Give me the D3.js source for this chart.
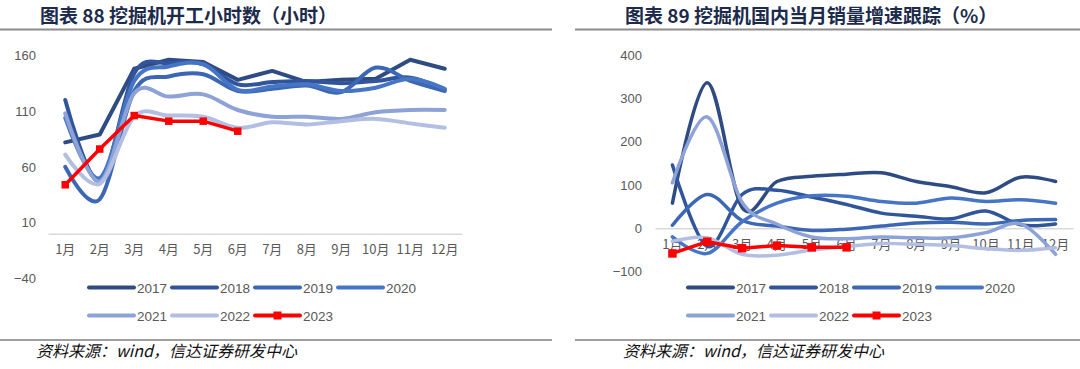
<!DOCTYPE html>
<html>
<head>
<meta charset="utf-8">
<script src="https://cdn.jsdelivr.net/npm/d3@7/dist/d3.min.js"></script>
<style>
  html, body { margin: 0; padding: 0; background: #fff; }
  svg { display: block; }
</style>
</head>
<body>
<svg id="chart" width="1080" height="369"></svg>
<script>
// ---- data ----
const months = ['1月', '2月', '3月', '4月', '5月', '6月', '7月', '8月', '9月', '10月', '11月', '12月'];
const years = ['2017', '2018', '2019', '2020', '2021', '2022', '2023'];

// 挖掘机开工小时数（小时）
const hours2017 = [82, 89, 148, 156, 154, 138, 146, 136, 138, 139, 156, 148];
const hours2018 = [120, 47, 144, 153, 152, 134, 136, 137, 135, 137, 140, 129];
const hours2019 = [60, 31, 128, 141, 143, 128, 130, 133, 127, 149, 137, 128];
const hours2020 = [104, 50, 137, 150, 152, 129, 132, 134, 128, 131, 139, 130];
const hours2021 = [108, 47, 126, 123, 125, 111, 105, 105, 103, 109, 111, 111];
const hours2022 = [71, 45, 105, 106, 105, 95, 100, 98, 101, 103, 99, 95];
const hours2023 = [44, 76, 106, 101, 101, 92];
const hoursTicks = [-40, 10, 60, 110, 160];

// 挖掘机国内当月销量增速（%）
const growth2017 = [58, 336, 48, 108, 120, 125, 128, 108, 96, 82, 118, 108];
const growth2018 = [146, -42, 78, 88, 72, 55, 35, 28, 22, 40, 8, 10];
const growth2019 = [7, 78, 18, 5, -5, -2, 5, 12, 14, 10, 18, 20];
const growth2020 = [-20, -58, 15, 58, 75, 74, 62, 58, 70, 62, 66, 58];
const growth2021 = [105, 257, 60, 10, -20, -24, -20, -22, -22, -10, 10, -60];
const growth2022 = [-30, -22, -60, -62, -50, -42, -35, -37, -40, -47, -51, -45];
const growth2023 = [-58, -31, -46, -40, -44, -44];
const growthTicks = [-100, 0, 100, 200, 300, 400];

const colors = ['#2F4B83', '#30559A', '#3C67B4', '#4775C6', '#8DA2D6', '#B2BEE2', '#FF0000'];

const svg = d3.select('#chart');
svg.append('rect').attr('width', 1080).attr('height', 369).attr('fill', '#fff');

const cjk = '"Noto Sans CJK SC", "Noto Sans", sans-serif';
const num = '"Liberation Sans", Arial, sans-serif';

function fmtTick(d) {
  return d < 0 ? '\u2212' + Math.abs(d) : String(d);
}

function drawPanel(opt) {
  const g = svg.append('g');

  // title + rules
  g.append('text')
    .attr('x', opt.titleX).attr('y', 23)
    .attr('font-family', cjk).attr('font-weight', 'bold')
    .attr('font-size', '19px').attr('fill', '#1C2B4C')
    .text(opt.title);
  g.append('line')
    .attr('x1', opt.ruleX[0]).attr('x2', opt.ruleX[1])
    .attr('y1', 29.5).attr('y2', 29.5)
    .attr('stroke', '#8C8C8C').attr('stroke-width', 2);
  g.append('line')
    .attr('x1', opt.ruleX[0]).attr('x2', opt.ruleX[1])
    .attr('y1', 340).attr('y2', 340)
    .attr('stroke', '#7F7F7F').attr('stroke-width', 1.5);
  g.append('text')
    .attr('x', opt.sourceX).attr('y', 357)
    .attr('font-family', cjk).attr('font-style', 'italic')
    .attr('font-size', '16px').attr('fill', '#111')
    .text('资料来源：wind，信达证券研发中心');

  // scales
  const x = d3.scaleBand().domain(months).range(opt.xRange);
  const cx = m => x(m) + x.bandwidth() / 2;
  const y = d3.scaleLinear().domain(opt.yDomain).range(opt.yRange);

  // y axis labels only
  const yAxis = g.append('g')
    .attr('transform', `translate(${opt.yAxisX},0)`)
    .call(d3.axisLeft(y).tickValues(opt.ticks).tickSize(0).tickPadding(0).tickFormat(fmtTick));
  yAxis.select('.domain').remove();
  yAxis.selectAll('text')
    .attr('font-family', num).attr('font-size', '13px').attr('fill', '#595959');

  // x axis on the zero line
  const xAxis = g.append('g')
    .attr('transform', `translate(0,${y(0)})`)
    .call(d3.axisBottom(x).tickSize(0).tickSizeOuter(0).tickPadding(opt.xPad));
  xAxis.select('.domain').attr('stroke', '#D9D9D9').attr('stroke-width', 1.5);
  xAxis.selectAll('text')
    .attr('font-family', cjk).attr('font-size', '13px').attr('fill', '#595959');

  // series lines
  const smooth = d3.line()
    .x((d, i) => cx(months[i]))
    .y(d => y(d))
    .curve(d3.curveCatmullRom.alpha(0));
  const straight = d3.line()
    .x((d, i) => cx(months[i]))
    .y(d => y(d));

  opt.series.forEach((vals, k) => {
    const isRed = k === 6;
    g.append('path')
      .attr('d', (opt.linear[k] ? straight : smooth)(vals))
      .attr('fill', 'none')
      .attr('stroke', colors[k])
      .attr('stroke-width', isRed ? 3.5 : opt.lineWidth)
      .attr('stroke-linejoin', 'round')
      .attr('stroke-linecap', 'round');
  });

  // 2023 markers
  g.append('g').selectAll('rect')
    .data(opt.series[6])
    .enter()
    .append('rect')
    .attr('x', (d, i) => cx(months[i]) - opt.marker / 2)
    .attr('y', d => y(d) - opt.marker / 2)
    .attr('width', opt.marker).attr('height', opt.marker)
    .attr('fill', '#FF0000');

  // legend, two rows
  const leg = g.append('g');
  years.forEach((yr, k) => {
    const lx = opt.legendX + (k % 4) * 83;
    const ly = k < 4 ? 287.5 : 315.5;
    leg.append('line')
      .attr('x1', lx).attr('x2', lx + 45)
      .attr('y1', ly).attr('y2', ly)
      .attr('stroke', colors[k]).attr('stroke-width', 4)
      .attr('stroke-linecap', 'round');
    if (k === 6) {
      leg.append('rect')
        .attr('x', lx + 22.5 - 4).attr('y', ly - 4)
        .attr('width', 8).attr('height', 8)
        .attr('fill', '#FF0000');
    }
    leg.append('text')
      .attr('x', lx + 48).attr('y', ly + 5)
      .attr('font-family', num).attr('font-size', '13.5px').attr('fill', '#595959')
      .text(yr);
  });
}

// left: 开工小时数
drawPanel({
  title: '图表 88 挖掘机开工小时数（小时）',
  titleX: 40,
  ruleX: [0, 552],
  sourceX: 36,
  xRange: [48, 462],
  yDomain: [-40, 160],
  yRange: [278.5, 55.3],
  yAxisX: 36,
  xPad: 11,
  ticks: hoursTicks,
  series: [hours2017, hours2018, hours2019, hours2020, hours2021, hours2022, hours2023],
  linear: [true, false, false, false, false, false, true],
  lineWidth: 4,
  marker: 7.5,
  legendX: 89,
});

// right: 当月销量增速
drawPanel({
  title: '图表 89 挖掘机国内当月销量增速跟踪（%）',
  titleX: 625,
  ruleX: [575, 1080],
  sourceX: 623,
  xRange: [655, 1073],
  yDomain: [-100, 400],
  yRange: [271.6, 55],
  yAxisX: 642,
  xPad: 12,
  ticks: growthTicks,
  series: [growth2017, growth2018, growth2019, growth2020, growth2021, growth2022, growth2023],
  linear: [false, false, false, false, false, false, true],
  lineWidth: 3.5,
  marker: 8.5,
  legendX: 688,
});
</script>
</body>
</html>
